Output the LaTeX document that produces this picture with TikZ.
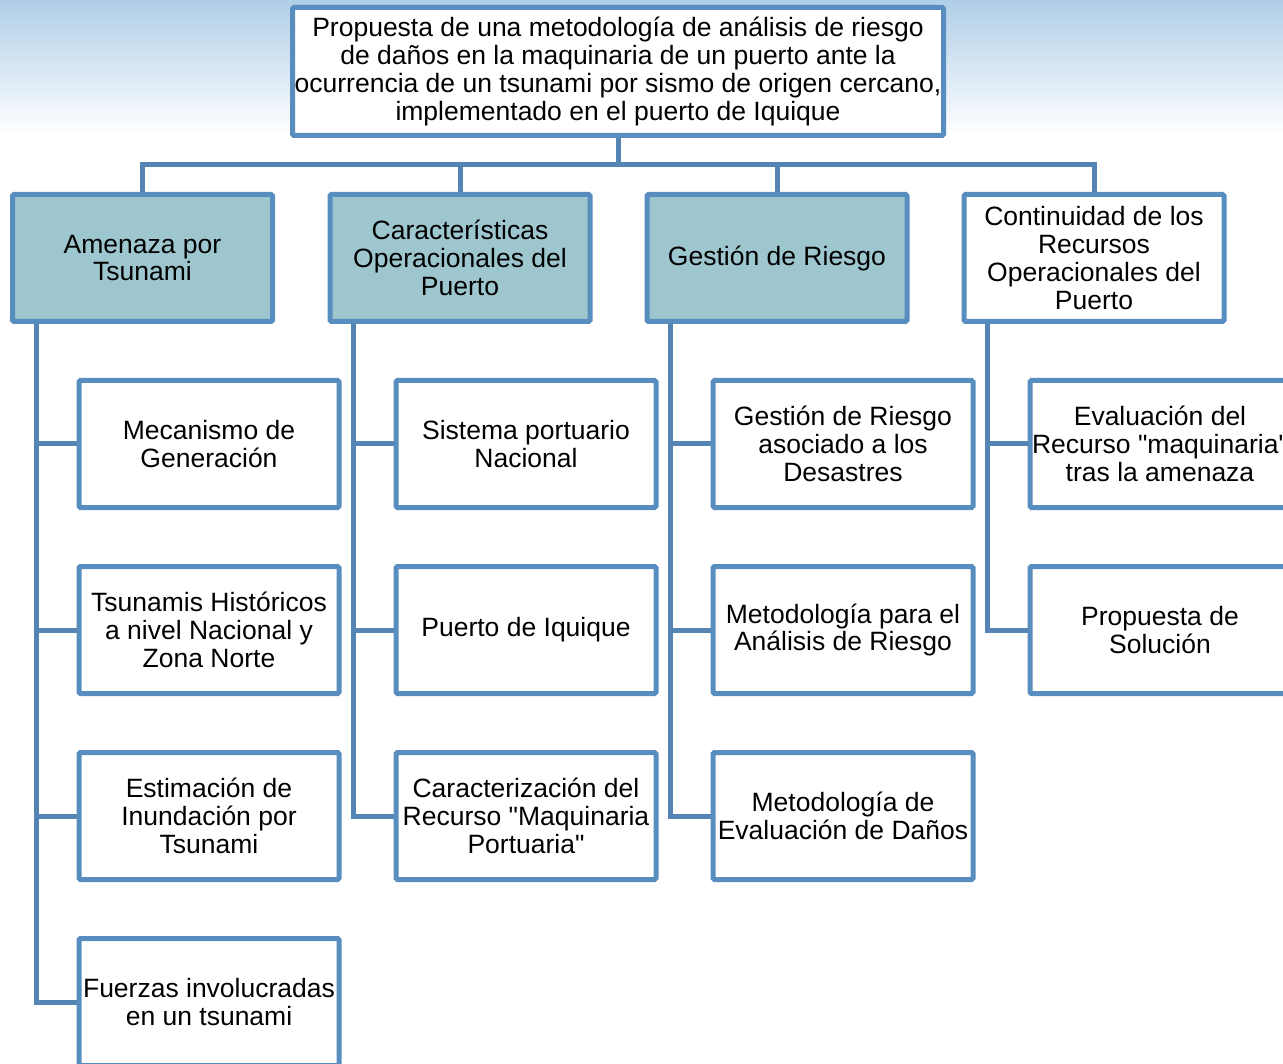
\documentclass[tikz,border=0pt]{standalone}
\usepackage{fontspec}
\setmainfont{Liberation Sans}[Ligatures=TeXOff]
\definecolor{bordc}{RGB}{88,141,191}
\definecolor{linec}{RGB}{84,133,180}
\definecolor{tealf}{RGB}{158,198,206}
\definecolor{skyc}{RGB}{176,206,231}
\begin{document}
\begin{tikzpicture}[x=1pt,y=-1pt,
  box/.style={draw=bordc,line width=5pt,rounded corners=1.5pt,fill=white,
    minimum width=260pt,minimum height=127pt,inner sep=0pt,align=center,
    font=\fontsize{26.5}{27.7}\selectfont},
  topbox/.style={box,fill=tealf},
  conn/.style={draw=linec,line width=5pt}]
\useasboundingbox (0,0) rectangle (1283,1064);
\clip (0,0) rectangle (1283,1064);
\shade[top color=skyc,bottom color=white] (0,0) rectangle (1283,135);
\fill[white] (0,135) rectangle (1283,1064);

\coordinate (hub) at (618,165);

\node[box,minimum width=651pt,minimum height=128pt] (root) at (618,71.5)
 {Propuesta de una metodología de análisis de riesgo\\ de daños en la maquinaria de un puerto ante la\\ ocurrencia de un tsunami por sismo de origen cercano,\\ implementado en el puerto de Iquique};

\node[topbox] (a) at (142.5,258) {Amenaza por\\Tsunami};
\node[topbox] (b) at (460,258) {Características\\Operacionales del\\Puerto};
\node[topbox] (c) at (777,258) {Gestión de Riesgo};
\node[box] (d) at (1094,258) {Continuidad de los\\Recursos\\Operacionales del\\Puerto};

\node[box] (a1) at (209,444) {Mecanismo de\\Generación};
\node[box] (a2) at (209,630) {Tsunamis Históricos\\a nivel Nacional y\\Zona Norte};
\node[box] (a3) at (209,816) {Estimación de\\Inundación por\\Tsunami};
\node[box] (a4) at (209,1002) {Fuerzas involucradas\\en un tsunami};

\node[box] (b1) at (526,444) {Sistema portuario\\Nacional};
\node[box] (b2) at (526,630) {Puerto de Iquique};
\node[box] (b3) at (526,816) {Caracterización del\\Recurso "Maquinaria\\Portuaria"};

\node[box] (c1) at (843,444) {Gestión de Riesgo\\asociado a los\\Desastres};
\node[box] (c2) at (843,630) {Metodología para el\\Análisis de Riesgo};
\node[box] (c3) at (843,816) {Metodología de\\Evaluación de Daños};

\node[box] (d1) at (1160,444) {Evaluación del\\Recurso "maquinaria"\\tras la amenaza};
\node[box] (d2) at (1160,630) {Propuesta de\\Solución};

\draw[conn] (root.south) -- (hub);
\draw[conn] (hub) -| (a.north);
\draw[conn] (hub) -| (b.north);
\draw[conn] (hub) -| (c.north);
\draw[conn] (hub) -| (d.north);

\foreach \p/\k in {a/a1,a/a2,a/a3,a/a4,b/b1,b/b2,b/b3,c/c1,c/c2,c/c3,d/d1,d/d2}{
  \draw[conn] ([xshift=26pt]\p.south west) |- (\k.west);
}
\end{tikzpicture}
\end{document}
